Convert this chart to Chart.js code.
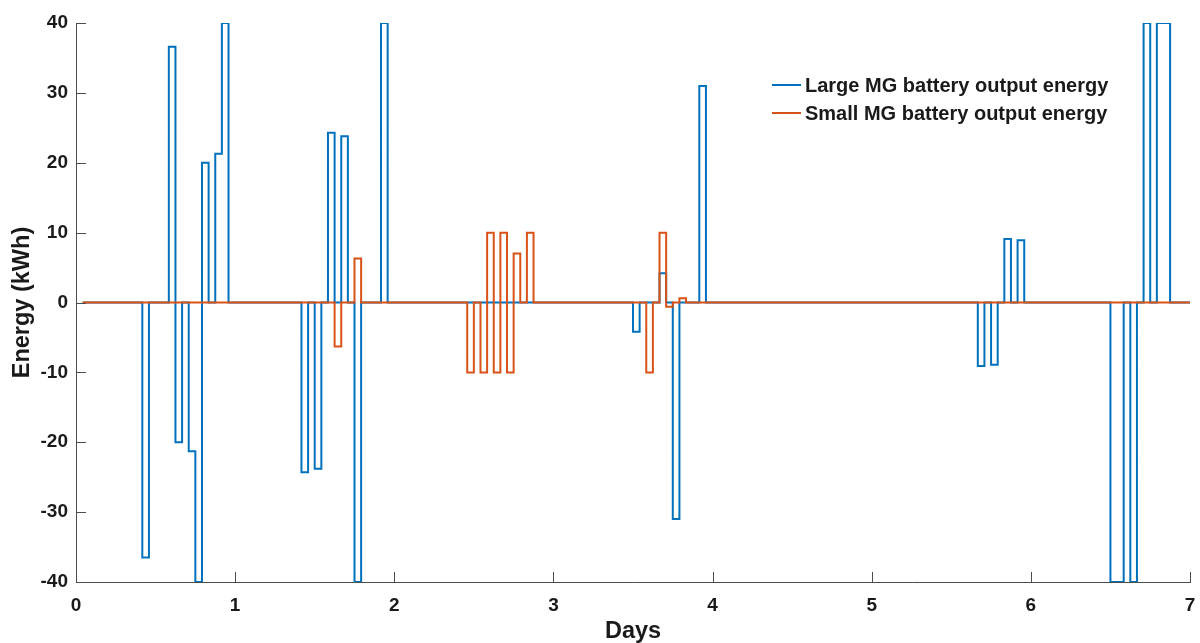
<!DOCTYPE html>
<html>
<head>
<meta charset="utf-8">
<script src="https://cdn.jsdelivr.net/npm/chart.js@4/dist/chart.umd.min.js"></script>
<style>
  html, body { margin: 0; padding: 0; background: #fff; }
  #wrap { width: 1200px; height: 643px; }
</style>
</head>
<body>
<div id="wrap"><canvas id="chart" width="1200" height="643"></canvas></div>
<script>
// hourly battery output, only the hours that are not zero are listed
const hoursPerDay = 24;
const firstHour = 1;
const lastHour = 168;

const largeLabel = "Large MG battery output energy";
const largeHours  = [10, 14, 15, 17, 18, 19, 21, 22, 34, 36, 38, 40, 42, 46, 84, 88, 90, 94, 136, 138, 140, 142, 156, 157, 159, 161, 163, 164];
const largeValues = [-36.5, 36.6, -20, -21.3, -40, 20, 21.3, 40, -24.3, -23.8, 24.3, 23.8, -40, 40, -4.2, 4.2, -31, 31, -9.1, -8.9, 9.1, 8.9, -40, -40, -40, 40, 40, 40];

const smallLabel = "Small MG battery output energy";
const smallHours  = [39, 42, 59, 61, 62, 63, 64, 65, 66, 68, 86, 88, 89, 91];
const smallValues = [-6.3, 6.3, -10, -10, 10, -10, 10, -10, 7, 10, -10, 10, -0.6, 0.6];

const dayTicks = [0, 1, 2, 3, 4, 5, 6, 7];
const energyTicks = [-40, -30, -20, -10, 0, 10, 20, 30, 40];

const FONT = '"Liberation Sans", Arial, Helvetica, sans-serif';
const TEXT = '#1a1a1a';
const AXIS = '#4d4d4d';

const buildSeries = (hours, values) => {
    const pts = [];
    for (let h = firstHour; h <= lastHour; h++) {
        const i = hours.indexOf(h);
        pts.push({ x: h / hoursPerDay, y: i >= 0 ? values[i] : 0 });
    }
    return pts;
};

// matlab style: ticks pointing into the plot, legend inside the axes
const axesDecor = {
    id: 'axesDecor',
    afterDraw(chart) {
        const ctx = chart.ctx;
        const xs = chart.scales.x, ys = chart.scales.y;
        const area = chart.chartArea;
        const tl = 10;
        ctx.save();
        ctx.strokeStyle = AXIS;
        ctx.lineWidth = 1;
        ctx.beginPath();
        ys.ticks.forEach(t => {
            const py = Math.round(ys.getPixelForValue(t.value)) + 0.5;
            ctx.moveTo(area.left, py);
            ctx.lineTo(area.left + tl, py);
        });
        xs.ticks.forEach(t => {
            const px = Math.round(xs.getPixelForValue(t.value)) + 0.5;
            ctx.moveTo(px, area.bottom);
            ctx.lineTo(px, area.bottom - tl);
        });
        ctx.stroke();

        // legend
        const lx = 772, ly = 85, gap = 28;
        ctx.font = 'bold 20px ' + FONT;
        ctx.textBaseline = 'middle';
        ctx.fillStyle = TEXT;
        chart.data.datasets.forEach((ds, i) => {
            const y = ly + i * gap;
            ctx.strokeStyle = ds.borderColor;
            ctx.lineWidth = 2;
            ctx.beginPath();
            ctx.moveTo(lx, y);
            ctx.lineTo(lx + 29, y);
            ctx.stroke();
            ctx.fillText(ds.label, lx + 33, y + 1);
        });
        ctx.restore();
    }
};

const ctx = document.getElementById('chart').getContext('2d');
const chart = new Chart(ctx, {
    type: 'line',
    data: {
        datasets: [
            {
                label: largeLabel,
                data: buildSeries(largeHours, largeValues),
                borderColor: '#0072BD',
                borderWidth: 2,
                stepped: 'before',
                pointRadius: 0,
                fill: false,
                order: 2
            },
            {
                label: smallLabel,
                data: buildSeries(smallHours, smallValues),
                borderColor: '#D95319',
                borderWidth: 2,
                stepped: 'before',
                pointRadius: 0,
                fill: false,
                order: 1
            }
        ]
    },
    options: {
        responsive: false,
        animation: false,
        devicePixelRatio: 1,
        layout: { padding: { top: 23, right: 10, left: 0, bottom: 0 } },
        plugins: {
            legend: { display: false },
            tooltip: { enabled: false }
        },
        scales: {
            x: {
                type: 'linear',
                min: 0,
                max: 7,
                afterBuildTicks: s => { s.ticks = dayTicks.map(v => ({ value: v })); },
                afterFit: s => { s.height = 61; s.paddingLeft = 0; s.paddingRight = 0; },
                grid: { display: false, drawTicks: false },
                border: { display: true, color: AXIS, width: 1 },
                ticks: {
                    color: TEXT,
                    padding: 12,
                    maxRotation: 0,
                    font: { family: FONT, size: 19, weight: 'bold' }
                },
                title: {
                    display: true,
                    text: 'Days',
                    color: TEXT,
                    padding: { top: 0, bottom: 0 },
                    font: { family: FONT, size: 23.5, weight: 'bold', lineHeight: 1 }
                }
            },
            y: {
                type: 'linear',
                min: -40,
                max: 40,
                afterBuildTicks: s => { s.ticks = energyTicks.map(v => ({ value: v })); },
                afterFit: s => { s.width = 76; s.paddingTop = 0; s.paddingBottom = 0; },
                grid: { display: false, drawTicks: false },
                border: { display: true, color: AXIS, width: 1 },
                ticks: {
                    color: TEXT,
                    padding: 8,
                    font: { family: FONT, size: 19, weight: 'bold' }
                },
                title: {
                    display: true,
                    text: 'Energy (kWh)',
                    color: TEXT,
                    padding: { top: 11, bottom: 0 },
                    font: { family: FONT, size: 23.5, weight: 'bold', lineHeight: 1 }
                }
            }
        }
    },
    plugins: [axesDecor]
});
</script>
</body>
</html>
